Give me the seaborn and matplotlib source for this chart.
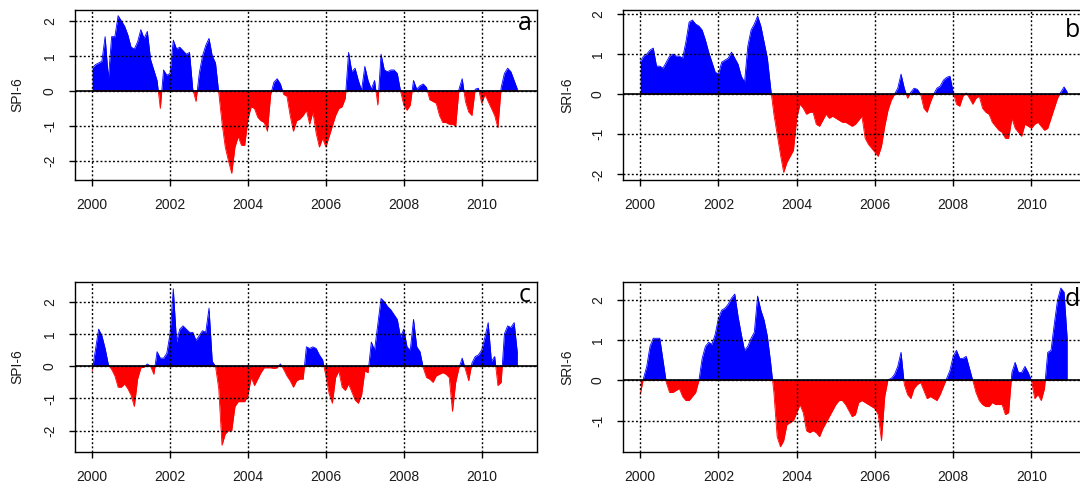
import numpy as np
import matplotlib
matplotlib.use("Agg")
import matplotlib.pyplot as plt
import seaborn as sns

# ---------------- data (monthly, Jan 2000 - Dec 2010) ----------------
start_year = 2000
n_months = 132

spi6_a = [0.65, 0.75, 0.8, 0.85, 1.55, 0.35, 1.55, 1.55, 2.15, 2.0, 1.85, 1.6,
          1.25, 1.2, 1.4, 1.75, 1.5, 1.7, 0.9, 0.6, 0.3, -0.5, 0.6, 0.45,
          0.5, 1.45, 1.2, 1.25, 1.15, 1.05, 1.1, 0.05, -0.3, 0.5, 1.0, 1.3,
          1.5, 1.0, 0.8, -0.05, -0.9, -1.6, -2.0, -2.35, -1.6, -1.3, -1.55, -1.55,
          -0.8, -0.45, -0.5, -0.75, -0.85, -0.9, -1.15, -0.1, 0.25, 0.35, 0.2, -0.1,
          -0.15, -0.7, -1.15, -0.85, -0.8, -0.7, -0.55, -0.95, -0.6, -1.2, -1.6, -1.35,
          -1.6, -1.3, -1.0, -0.7, -0.5, -0.45, -0.2, 1.1, 0.55, 0.65, 0.3, 0.02,
          0.7, 0.3, 0.05, 0.3, -0.4, 1.05, 0.6, 0.55, 0.6, 0.6, 0.5, 0.0,
          -0.4, -0.55, -0.4, 0.3, 0.05, 0.15, 0.2, 0.1, -0.25, -0.3, -0.35, -0.7,
          -0.9, -0.9, -0.95, -0.95, -1.0, 0.05, 0.35, -0.3, -0.6, -0.7, 0.05, 0.08,
          -0.35, -0.1, -0.3, -0.5, -0.7, -1.05, 0.1, 0.5, 0.65, 0.55, 0.3, 0.05]

sri6_b = [0.8, 0.95, 1.0, 1.1, 1.15, 0.7, 0.7, 0.65, 0.8, 0.95, 1.0, 0.95,
          0.95, 0.9, 1.3, 1.8, 1.85, 1.75, 1.7, 1.6, 1.35, 1.05, 0.8, 0.55,
          0.5, 0.8, 0.85, 0.9, 1.05, 0.9, 0.75, 0.45, 0.3, 1.2, 1.6, 1.75,
          1.95, 1.7, 1.3, 0.9, 0.15, -0.5, -1.0, -1.5, -1.95, -1.7, -1.55, -1.4,
          -0.6, -0.25, -0.35, -0.5, -0.45, -0.45, -0.75, -0.8, -0.65, -0.5, -0.6, -0.55,
          -0.6, -0.65, -0.7, -0.7, -0.75, -0.8, -0.75, -0.65, -0.55, -1.1, -1.25, -1.35,
          -1.45, -1.55, -1.3, -0.8, -0.4, -0.15, 0.0, 0.15, 0.5, 0.15, -0.1, 0.05,
          0.15, 0.12, 0.0, -0.35, -0.45, -0.2, 0.0, 0.15, 0.2, 0.35, 0.42, 0.45,
          0.05, -0.25, -0.3, -0.05, 0.03, -0.1, -0.25, -0.1, -0.05, -0.35, -0.45, -0.5,
          -0.7, -0.8, -0.9, -0.95, -1.1, -1.1, -0.6, -0.85, -0.95, -1.05, -0.75, -0.8,
          -0.85, -0.75, -0.7, -0.8, -0.9, -0.85, -0.6, -0.35, -0.1, 0.05, 0.18, 0.05]

spi6_c = [-0.15, 0.5, 1.15, 0.95, 0.55, 0.05, -0.1, -0.3, -0.65, -0.65, -0.55, -0.7,
          -0.9, -1.25, -0.4, -0.05, -0.03, 0.07, 0.0, -0.25, 0.45, 0.25, 0.25, 0.4,
          1.0, 2.4, 0.75, 1.15, 1.25, 1.15, 1.05, 1.05, 0.8, 0.95, 1.1, 1.05,
          1.8, 0.15, 0.0, -0.7, -2.45, -2.1, -2.0, -2.0, -1.25, -1.1, -1.1, -1.1,
          -0.9, -0.35, -0.6, -0.4, -0.2, -0.05, -0.05, -0.05, -0.07, -0.05, 0.07, -0.1,
          -0.3, -0.45, -0.65, -0.45, -0.4, -0.4, 0.6, 0.55, 0.6, 0.55, 0.35, 0.2,
          -0.3, -0.85, -1.15, -0.35, -0.15, -0.65, -0.75, -0.55, -0.8, -1.05, -1.15, -0.9,
          -0.15, -0.2, 0.75, 0.5, 1.3, 2.1, 2.0, 1.85, 1.75, 1.6, 1.45, 0.9,
          1.15, 0.6, 0.5, 1.45, 0.6, 0.45, -0.05, -0.35, -0.4, -0.5, -0.3, -0.25,
          -0.2, -0.25, -0.35, -1.4, -0.5, -0.05, 0.25, -0.1, -0.45, 0.1, 0.3, 0.35,
          0.5, 0.9, 1.35, 0.15, 0.3, -0.6, -0.5, 1.0, 1.25, 1.2, 1.35, 0.4]

sri6_d = [-0.35, 0.05, 0.35, 0.85, 1.05, 1.05, 1.05, 0.5, -0.05, -0.3, -0.3, -0.25,
          -0.2, -0.4, -0.5, -0.5, -0.4, -0.3, 0.0, 0.55, 0.85, 0.95, 0.9, 1.15,
          1.55, 1.75, 1.8, 1.9, 2.05, 2.15, 1.6, 1.15, 0.75, 0.85, 1.05, 1.2,
          2.1, 1.75, 1.5, 1.1, 0.45, -0.3, -1.4, -1.65, -1.5, -1.1, -1.05, -1.0,
          -0.8, -0.6, -0.8, -1.25, -1.3, -1.25, -1.3, -1.4, -1.2, -1.05, -0.9, -0.75,
          -0.6, -0.5, -0.5, -0.6, -0.75, -0.9, -0.85, -0.55, -0.5, -0.55, -0.6, -0.65,
          -0.7, -0.85, -1.5, -0.4, 0.02, 0.05, 0.15, 0.35, 0.7, -0.1, -0.35, -0.45,
          -0.2, -0.1, -0.05, -0.25, -0.45, -0.4, -0.45, -0.5, -0.35, -0.15, 0.05, 0.25,
          0.6, 0.75, 0.55, 0.55, 0.6, 0.3, 0.0, -0.3, -0.5, -0.6, -0.65, -0.65,
          -0.55, -0.6, -0.6, -0.6, -0.85, -0.8, 0.2, 0.45, 0.2, 0.2, 0.35, 0.2,
          0.0, -0.45, -0.35, -0.5, -0.2, 0.7, 0.75, 1.4, 2.0, 2.3, 2.2, 1.0]

series = [spi6_a, sri6_b, spi6_c, sri6_d]
y_labels = ["SPI-6", "SRI-6", "SPI-6", "SRI-6"]
panel_letters = ["a", "b", "c", "d"]
x_ticks = [2000, 2002, 2004, 2006, 2008, 2010]
y_ticks = [[-2, -1, 0, 1, 2], [-2, -1, 0, 1, 2], [-2, -1, 0, 1, 2], [-1, 0, 1, 2]]
y_limits = [(-2.54, 2.31), (-2.14, 2.10), (-2.66, 2.61), (-1.78, 2.45)]

# ---------------- style ----------------
sns.set_style("white")
plt.rcParams["font.family"] = ["Liberation Sans", "DejaVu Sans"]

W, H = 1080, 490
fig = plt.figure(figsize=(W / 100, H / 100), dpi=100)
fig.patch.set_facecolor("white")

# axes boxes in pixels: (left, right, top, bottom)
boxes = [(75, 537, 10, 180), (623, 1087, 10, 180),
         (75, 537, 282, 452), (623, 1087, 282, 452)]
letter_pos = [(525, 29.5, "center"), (1065, 37, "left"),
              (525, 302, "center"), (1065, 306, "left")]

BLUE = "#0000FF"
RED = "#FF0000"


def with_crossings(t, v):
    tt, vv = [t[0]], [v[0]]
    for i in range(1, len(t)):
        if v[i - 1] * v[i] < 0:
            tc = t[i - 1] + (t[i] - t[i - 1]) * v[i - 1] / (v[i - 1] - v[i])
            tt.append(tc)
            vv.append(0.0)
        tt.append(t[i])
        vv.append(v[i])
    return np.array(tt), np.array(vv)


t = start_year + np.arange(n_months) / 12.0

for k, vals in enumerate(series):
    l, r, tp, bt = boxes[k]
    ax = fig.add_axes([l / W, 1 - bt / H, (r - l) / W, (bt - tp) / H])
    v = np.asarray(vals, dtype=float)
    tt, vv = with_crossings(t, v)
    pos = np.maximum(vv, 0)
    neg = np.minimum(vv, 0)
    ax.fill_between(tt, 0, pos, color=BLUE, lw=0, zorder=1)
    ax.fill_between(tt, 0, neg, color=RED, lw=0, zorder=1)
    sns.lineplot(x=tt, y=pos, color=BLUE, lw=0.6, ax=ax, zorder=1.1)
    sns.lineplot(x=tt, y=neg, color=RED, lw=0.6, ax=ax, zorder=1.1)
    ax.axhline(0, color="black", lw=1.2, zorder=3)

    ax.set_xlim(1999.56, 2011.42)
    ax.set_ylim(*y_limits[k])
    ax.set_xticks(x_ticks)
    ax.set_yticks(y_ticks[k])
    ax.set_xticklabels([str(x) for x in x_ticks])
    ax.set_yticklabels([str(y) for y in y_ticks[k]], rotation=90, va="center")

    ax.grid(True, color="black", lw=1.0, linestyle=(0, (1.4, 1.6)), zorder=2)
    ax.set_axisbelow(False)

    for s in ax.spines.values():
        s.set_visible(True)
        s.set_color("black")
        s.set_linewidth(1.0)
    ax.tick_params(direction="out", length=4, width=1.0, color="black",
                   labelsize=10, labelcolor="#1a1a1a", pad=9,
                   bottom=True, left=True, top=False, right=False)

    ax.set_xlabel("")
    ax.set_ylabel(y_labels[k], fontsize=10, color="#1a1a1a")
    ax.yaxis.label.set_va("center")
    ax.yaxis.set_label_coords((17 - (l if k % 2 == 0 else l - 1)) / (r - l) if k % 2 == 0
                              else (567 - l) / (r - l), 0.5)

    lx, ly, ha = letter_pos[k]
    fig.text(lx / W, 1 - ly / H, panel_letters[k], fontsize=18, ha=ha,
             va="baseline", color="black", family=["Open Sans", "DejaVu Sans"])

fig.savefig("out.png", dpi=100)
